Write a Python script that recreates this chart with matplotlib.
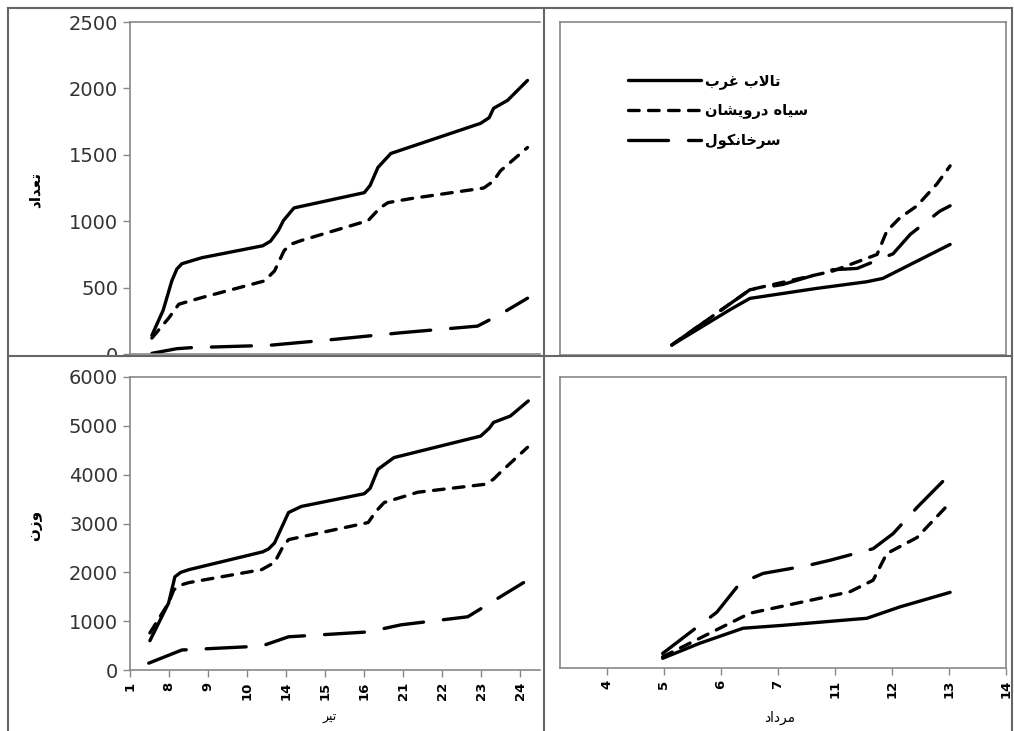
import matplotlib
matplotlib.use("Agg")
import matplotlib.pyplot as plt
from matplotlib.lines import Line2D
from matplotlib.patches import Rectangle

# ---- data ----
tir_labels = ["1", "8", "9", "10", "14", "15", "16", "21", "22", "23", "24"]
mordad_labels = ["4", "5", "6", "7", "11", "12", "13", "14"]

# left panels: x in label-index units (تیر)
count_tir_x = {
    "talab": [0.56, 0.85, 1.07, 1.2, 1.33, 1.84, 3.4, 3.6, 3.8, 3.93, 4.2, 6.0, 6.15, 6.35, 6.68, 8.98, 9.2, 9.31, 9.67, 10.18],
    "siah": [0.56, 0.99, 1.25, 1.84, 3.44, 3.7, 3.95, 4.15, 4.39, 6.1, 6.4, 6.61, 7.19, 9.06, 9.3, 9.49, 10.18],
    "sorkh": [0.56, 1.2, 1.58, 3.55, 5.23, 6.94, 8.9, 9.49, 10.18],
}
count_tir_y = {
    "talab": [140, 330, 550, 640, 680, 725, 815, 850, 930, 1005, 1100, 1215, 1270, 1405, 1510, 1737, 1780, 1850, 1910, 2060],
    "siah": [120, 270, 375, 425, 550, 625, 780, 830, 855, 1005, 1100, 1140, 1170, 1250, 1300, 1380, 1555],
    "sorkh": [5, 40, 48, 65, 110, 160, 210, 300, 420],
}
weight_tir_x = {
    "talab": [0.51, 0.99, 1.15, 1.3, 1.51, 3.4, 3.55, 3.7, 4.06, 4.39, 6.0, 6.15, 6.35, 6.76, 8.98, 9.2, 9.31, 9.74, 10.2],
    "siah": [0.51, 0.99, 1.12, 1.3, 1.51, 3.37, 3.7, 3.9, 4.06, 6.1, 6.3, 6.51, 7.37, 9.06, 9.3, 9.49, 10.18],
    "sorkh": [0.48, 1.33, 3.37, 4.06, 6.1, 6.94, 8.65, 9.23, 10.08],
}
weight_tir_y = {
    "talab": [600, 1375, 1910, 2000, 2055, 2420, 2480, 2600, 3225, 3350, 3610, 3720, 4110, 4350, 4790, 4950, 5070, 5200, 5510],
    "siah": [760, 1375, 1640, 1740, 1790, 2055, 2200, 2500, 2670, 3020, 3250, 3430, 3640, 3800, 3900, 4050, 4560],
    "sorkh": [140, 410, 490, 680, 780, 925, 1090, 1375, 1790],
}

# right panels: x in label-index units (مرداد)
count_mor_x = {
    "talab": [1.14, 2.16, 2.51, 3.68, 4.56, 4.84, 6.02],
    "siah": [1.14, 2.51, 3.96, 4.74, 4.91, 5.14, 5.44, 5.79, 6.02],
    "sorkh": [1.14, 2.51, 3.09, 3.96, 4.39, 5.02, 5.32, 5.84, 6.02],
}
count_mor_y = {
    "talab": [75, 340, 425, 500, 550, 575, 830],
    "siah": [75, 490, 630, 755, 930, 1030, 1120, 1285, 1420],
    "sorkh": [75, 490, 530, 640, 650, 760, 905, 1080, 1120],
}
weight_mor_x = {
    "talab": [0.98, 1.63, 2.39, 3.09, 4.3, 4.56, 5.14, 6.02],
    "siah": [0.98, 1.81, 2.51, 4.26, 4.67, 4.91, 5.44, 6.02],
    "sorkh": [0.98, 1.58, 1.93, 2.33, 2.74, 3.51, 3.91, 4.67, 5.02, 5.44, 6.02],
}
weight_mor_y = {
    "talab": [200, 510, 820, 880, 1000, 1025, 1260, 1560],
    "siah": [230, 720, 1130, 1570, 1810, 2360, 2690, 3410],
    "sorkh": [300, 840, 1150, 1740, 1950, 2110, 2220, 2460, 2770, 3310, 4000],
}

# ---- simple Persian shaping (presentation forms, visual order) ----
FORMS = {
    'ا': ('\ufe8d', '\ufe8e', None, None),
    'ب': ('\ufe8f', '\ufe90', '\ufe91', '\ufe92'),
    'ت': ('\ufe95', '\ufe96', '\ufe97', '\ufe98'),
    'خ': ('\ufea5', '\ufea6', '\ufea7', '\ufea8'),
    'د': ('\ufea9', '\ufeaa', None, None),
    'ر': ('\ufead', '\ufeae', None, None),
    'ز': ('\ufeaf', '\ufeb0', None, None),
    'س': ('\ufeb1', '\ufeb2', '\ufeb3', '\ufeb4'),
    'ش': ('\ufeb5', '\ufeb6', '\ufeb7', '\ufeb8'),
    'ع': ('\ufec9', '\ufeca', '\ufecb', '\ufecc'),
    'غ': ('\ufecd', '\ufece', '\ufecf', '\ufed0'),
    'ل': ('\ufedd', '\ufede', '\ufedf', '\ufee0'),
    'م': ('\ufee1', '\ufee2', '\ufee3', '\ufee4'),
    'ن': ('\ufee5', '\ufee6', '\ufee7', '\ufee8'),
    'ه': ('\ufee9', '\ufeea', '\ufeeb', '\ufeec'),
    'و': ('\ufeed', '\ufeee', None, None),
    'ی': ('\ufbfc', '\ufbfd', '\ufbfe', '\ufbff'),
    'ک': ('\ufb8e', '\ufb8f', '\ufb90', '\ufb91'),
    '\ufefb': ('\ufefb', '\ufefc', None, None),
}


def farsi(text):
    chars = list(text.replace('لا', '\ufefb'))
    out = []
    for i, c in enumerate(chars):
        if c not in FORMS:
            out.append(c)
            continue
        prev = chars[i - 1] if i > 0 else ''
        nxt = chars[i + 1] if i + 1 < len(chars) else ''
        jp = prev in FORMS and FORMS[prev][2] is not None
        jn = nxt in FORMS and FORMS[c][2] is not None
        iso, fin, ini, med = FORMS[c]
        out.append(med if jp and jn else fin if jp else ini if jn else iso)
    return ''.join(reversed(out))


names = {"talab": "تالاب غرب", "siah": "سیاه درویشان", "sorkh": "سرخانکول"}
styles = {"talab": dict(linestyle="-"),
          "siah": dict(dashes=(3.2, 2.8)),
          "sorkh": dict(dashes=(12, 6))}

plt.rcParams['font.family'] = ['DejaVu Sans']
W, H = 1014, 731
fig = plt.figure(figsize=(W / 100, H / 100), dpi=100)


def px_rect(l, r, t, b):
    return [l / W, (H - b) / H, (r - l) / W, (b - t) / H]


ax_tl = fig.add_axes(px_rect(130, 540, 22, 354))
ax_bl = fig.add_axes(px_rect(130, 540, 377, 670))
ax_tr = fig.add_axes(px_rect(560, 1006, 22, 355))
ax_br = fig.add_axes(px_rect(560, 1006, 377, 668))

panels = [
    (ax_tl, count_tir_x, count_tir_y, 2500, 500),
    (ax_bl, weight_tir_x, weight_tir_y, 6000, 1000),
    (ax_tr, count_mor_x, count_mor_y, 2500, 500),
    (ax_br, weight_mor_x, weight_mor_y, 6000, 1000),
]

for ax, xs, ys, ymax, step in panels:
    for key in ["talab", "siah", "sorkh"]:
        ax.plot(xs[key], ys[key], color="black", lw=2.4,
                solid_capstyle="round", solid_joinstyle="round",
                dash_capstyle="round", dash_joinstyle="round",
                label=farsi(names[key]), **styles[key])
    ax.set_ylim(0, ymax)
    ax.set_yticks(range(0, ymax + 1, step))
    for s in ax.spines.values():
        s.set_color("#888888")
        s.set_linewidth(1.2)
    ax.tick_params(color="#888888", length=5, width=1)

for ax in (ax_tl, ax_bl):
    ax.set_xlim(0, 10.5)
    ax.set_xticks(range(len(tir_labels)))
    ax.set_xticklabels(tir_labels, rotation=90, fontsize=9.5, fontweight="bold")
    ax.tick_params(axis="y", labelsize=14, labelcolor="#333333")
    ax.spines["right"].set_visible(False)

for ax in (ax_tr, ax_br):
    ax.set_xlim(-0.82, 7)
    ax.set_xticks(range(len(mordad_labels)))
    ax.set_xticklabels(mordad_labels, rotation=90, fontsize=9.5, fontweight="bold")
    ax.tick_params(axis="y", left=False, labelleft=False)

ax_tl.tick_params(axis="x", labelbottom=False)
ax_tr.tick_params(axis="x", labelbottom=False)

ax_tr.legend(loc="upper left", bbox_to_anchor=(615 / W, 1 - 60 / H),
             bbox_transform=fig.transFigure, frameon=False,
             prop=dict(size=10.5, weight="bold"),
             handlelength=5.0, labelspacing=0.95, handletextpad=0.3)

fig.text(35 / W, 1 - 190 / H, farsi("تعداد"), rotation=90, fontsize=11,
         fontweight="bold", ha="center", va="center")
fig.text(35 / W, 1 - 525 / H, farsi("وزن"), rotation=90, fontsize=11,
         fontweight="bold", ha="center", va="center")
fig.text(330 / W, 1 - 718 / H, farsi("تیر"), fontsize=9, ha="center", va="center")
fig.text(780 / W, 1 - 718 / H, farsi("مرداد"), fontsize=10, ha="center", va="center")

# cut-off of the upper panels and panel frames
fig.add_artist(Rectangle((0, (H - 370) / H), 1, 14 / H, transform=fig.transFigure,
                         facecolor="white", edgecolor="none", zorder=5))
frame = dict(color="#666666", lw=1.5, zorder=6, transform=fig.transFigure)
fig.add_artist(Line2D([8 / W, 8 / W], [0, 1 - 8 / H], **frame))
fig.add_artist(Line2D([8 / W, 1012 / W], [1 - 8 / H, 1 - 8 / H], **frame))
fig.add_artist(Line2D([1012 / W, 1012 / W], [0, 1 - 8 / H], **frame))
fig.add_artist(Line2D([544 / W, 544 / W], [0, 1 - 8 / H], **frame))
fig.add_artist(Line2D([8 / W, 1012 / W], [1 - 356 / H, 1 - 356 / H], **frame))

fig.savefig("out.png", dpi=100)
